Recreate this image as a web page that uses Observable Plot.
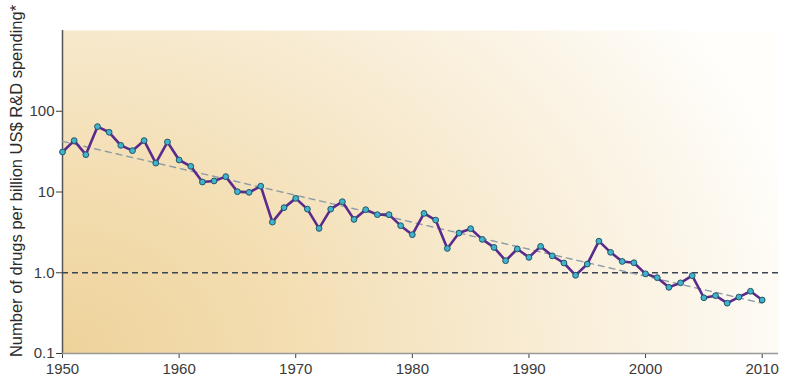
<!DOCTYPE html>
<html>
<head>
<meta charset="utf-8">
<script src="https://cdn.jsdelivr.net/npm/d3@7"></script>
<script src="https://cdn.jsdelivr.net/npm/@observablehq/plot@0.6"></script>
<style>
  html, body { margin: 0; padding: 0; background: #ffffff; }
  #chart { width: 800px; height: 386px; }
</style>
</head>
<body>
<div id="chart"></div>
<script>
const years = [1950,1951,1952,1953,1954,1955,1956,1957,1958,1959,
  1960,1961,1962,1963,1964,1965,1966,1967,1968,1969,
  1970,1971,1972,1973,1974,1975,1976,1977,1978,1979,
  1980,1981,1982,1983,1984,1985,1986,1987,1988,1989,
  1990,1991,1992,1993,1994,1995,1996,1997,1998,1999,
  2000,2001,2002,2003,2004,2005,2006,2007,2008,2009,2010];
const drugsPerBillion = [31.3,43.3,29.0,64.5,54.9,37.8,32.5,43.3,22.8,41.6,
  24.9,20.8,13.3,13.7,15.5,10.1,9.9,11.8,4.24,6.4,
  8.34,6.14,3.54,6.14,7.59,4.58,6.04,5.24,5.24,3.83,
  2.96,5.43,4.49,2.0,3.10,3.51,2.59,2.06,1.41,1.97,
  1.55,2.12,1.62,1.32,0.93,1.28,2.46,1.79,1.38,1.33,
  0.97,0.87,0.66,0.75,0.92,0.49,0.52,0.42,0.50,0.59,0.46];
const trendYears = [1950, 2010];
const trendValues = [42.4, 0.42];
const referenceValue = 1;
const xTicks = [1950, 1960, 1970, 1980, 1990, 2000, 2010];
const yTicks = [0.1, 1, 10, 100];
const yTickLabels = ["0.1", "1.0", "10", "100"];
const yLabel = "Number of drugs per billion US$ R&D spending*";

const data = years.map((y, i) => ({year: y, value: drugsPerBillion[i]}));
const trend = trendYears.map((y, i) => ({year: y, value: trendValues[i]}));

const plot = Plot.plot({
  width: 800,
  height: 386,
  marginLeft: 62,
  marginRight: 22,
  marginTop: 30,
  marginBottom: 33,
  style: {fontFamily: "Liberation Sans, Arial, sans-serif", background: "transparent"},
  x: {domain: [1950, 2011.4]},
  y: {type: "log", domain: [0.1, 1000]},
  marks: [
    Plot.frame({fill: "url(#bggrad)", stroke: null}),
    Plot.axisX({ticks: xTicks, tickFormat: d => String(d), tickSize: 5, fontSize: 15, color: "#3a3a3a", label: null, tickPadding: 5}),
    Plot.axisY({ticks: yTicks, tickFormat: d => yTickLabels[yTicks.indexOf(d)], tickSize: 6, fontSize: 15, color: "#3a3a3a", label: null, tickPadding: 2}),
    Plot.ruleX([1950], {stroke: "#555", strokeWidth: 1.5}),
    Plot.ruleY([0.1], {stroke: "#999", strokeWidth: 1.5}),
    Plot.ruleY([referenceValue], {stroke: "#3b4655", strokeWidth: 1.5, strokeDasharray: "6,4"}),
    Plot.line(trend, {x: "year", y: "value", stroke: "#8d9ba6", strokeWidth: 1.4, strokeDasharray: "6,5"}),
    Plot.line(data, {x: "year", y: "value", stroke: "#5a2a8c", strokeWidth: 2.6}),
    Plot.dot(data, {x: "year", y: "value", r: 2.9, fill: "#3fb4cc", stroke: "#245466", strokeWidth: 1}),
    Plot.text([yLabel], {frameAnchor: "left", text: d => d, rotate: -90, dx: -46, dy: -11, fontSize: 16.5, fill: "#2a2a2a", textAnchor: "middle"})
  ]
});

const svg = d3.select(plot);
const defs = svg.insert("defs", ":first-child");
const g = defs.append("radialGradient")
  .attr("id", "bggrad")
  .attr("gradientUnits", "userSpaceOnUse")
  .attr("cx", 62).attr("cy", 353).attr("r", 760)
  .attr("fx", 62).attr("fy", 353)
  .attr("gradientTransform", "translate(62,353) scale(1,0.78) translate(-62,-353)");
g.append("stop").attr("offset", "0").attr("stop-color", "#eed29a");
g.append("stop").attr("offset", "0.3").attr("stop-color", "#f3deb2");
g.append("stop").attr("offset", "0.55").attr("stop-color", "#f7e9cd");
g.append("stop").attr("offset", "0.8").attr("stop-color", "#fbf4e6");
g.append("stop").attr("offset", "1").attr("stop-color", "#fffefb");

document.getElementById("chart").appendChild(plot);
</script>
</body>
</html>
